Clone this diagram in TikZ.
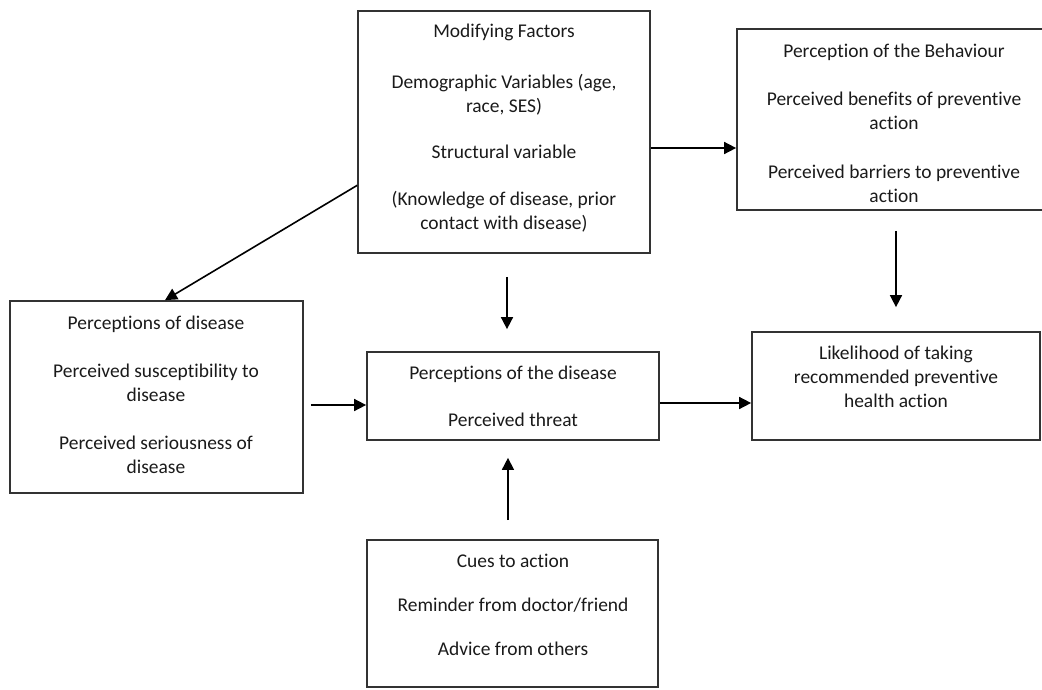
\documentclass[tikz,border=0pt]{standalone}
\usepackage{fontspec}
\setmainfont{Carlito}[RawFeature={-liga;-clig}]
\usetikzlibrary{arrows.meta,calc}
\definecolor{ink}{HTML}{1A1A1A}
\definecolor{edge}{HTML}{333333}
\begin{document}
\begin{tikzpicture}[x=0.75pt,y=-0.75pt,
  box/.style={draw=edge,line width=1.3pt,inner sep=0pt},
  txt/.style={text=ink,align=center,inner sep=0pt,font=\fontsize{14.6}{18}\selectfont},
  arr/.style={draw=black,line width=1.2pt,-{Triangle[length=9pt,width=9pt]}}]
\useasboundingbox (0,0) rectangle (1042,689);
% boxes
\node[box,minimum width=292*0.75pt,minimum height=242*0.75pt] (mod) at (504,132) {};
\node[box,minimum width=316*0.75pt,minimum height=181*0.75pt] (beh) at (895,119.5) {};
\node[box,minimum width=293*0.75pt,minimum height=192*0.75pt] (left) at (156.5,397) {};
\node[box,minimum width=292*0.75pt,minimum height=88*0.75pt] (center) at (513,396) {};
\node[box,minimum width=288*0.75pt,minimum height=108*0.75pt] (lik) at (896,386) {};
\node[box,minimum width=291*0.75pt,minimum height=147*0.75pt] (cues) at (512.5,613.5) {};
% texts
\node[txt] (modt) at (504,128) {Modifying Factors\\[20pt]Demographic Variables (age,\\race, SES)\\[16.5pt]Structural variable\\[17pt](Knowledge of disease, prior\\contact with disease)};
\node[txt] (beht) at (894,123) {Perception of the Behaviour\\[18.5pt]Perceived benefits of preventive\\action\\[18.5pt]Perceived barriers to preventive\\action};
\node[txt] (leftt) at (156,395) {Perceptions of disease\\[18pt]Perceived susceptibility to\\disease\\[18pt]Perceived seriousness of\\disease};
\node[txt] (centert) at (513,396.5) {Perceptions of the disease\\[17pt]Perceived threat};
\node[txt] (likt) at (896,377) {Likelihood of taking\\recommended preventive\\health action};
\node[txt] (cuest) at (513,605) {Cues to action\\[15pt]Reminder from doctor/friend\\[15pt]Advice from others};
% connectors
\draw[arr] ($(mod.north west)!0.719!(mod.south west)$) -- ($(left.north west)!0.529!(left.north east)$);
\draw[arr] ([yshift=-12pt]mod.east) -- ([yshift=-12pt]mod.east -| beh.west);
\draw[arr,shorten <=17.25pt,shorten >=16.5pt] ([xshift=2.25pt]mod.south) -- ([xshift=2.25pt]mod.south |- center.north);
\draw[arr,shorten <=15pt,shorten >=18pt] (lik.north |- beh.south) -- (lik.north);
\draw[arr,shorten <=5.25pt] ([yshift=-6.75pt]center.west -| left.east) -- ([yshift=-6.75pt]center.west);
\draw[arr] ([yshift=-5.25pt]center.east) -- ([yshift=-5.25pt]center.east -| lik.west);
\draw[arr,shorten <=14.25pt,shorten >=12.75pt] ([xshift=-3.4pt]cues.north) -- ([xshift=-3.4pt]cues.north |- center.south);
\end{tikzpicture}
\end{document}
